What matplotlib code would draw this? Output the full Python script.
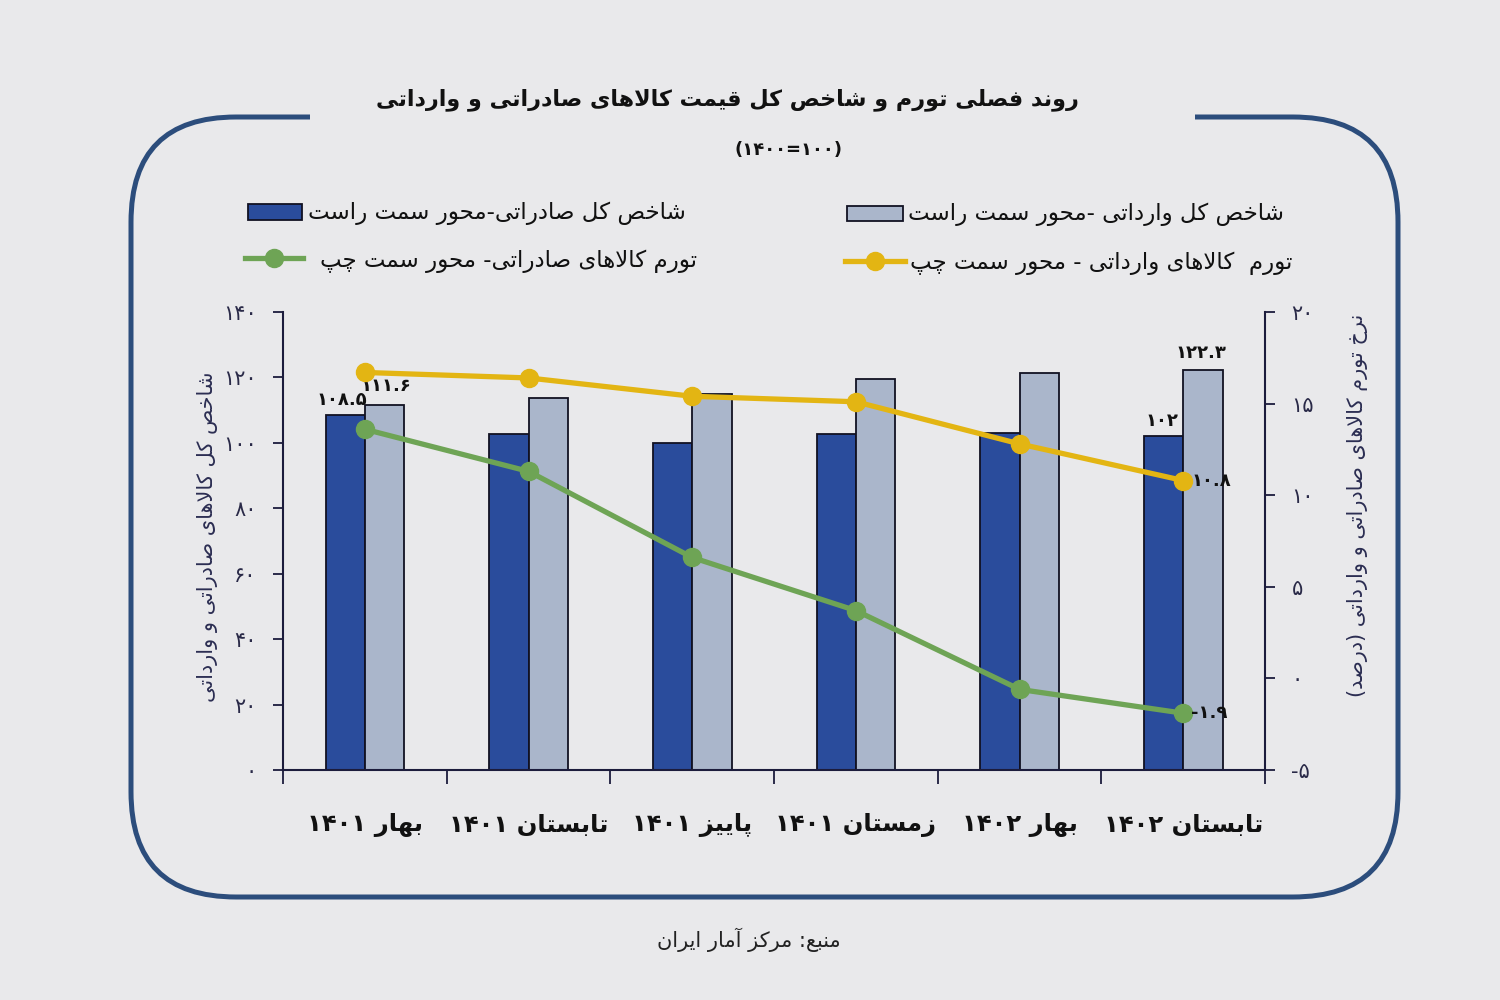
import re
import matplotlib
matplotlib.use('Agg')
import matplotlib.pyplot as plt
from matplotlib.patches import FancyBboxPatch, Rectangle
from matplotlib.lines import Line2D

# fasl-ha (mehvar-e ofoghi)
fasl = ['بهار ۱۴۰۱', 'تابستان ۱۴۰۱', 'پاییز ۱۴۰۱', 'زمستان ۱۴۰۱', 'بهار ۱۴۰۲', 'تابستان ۱۴۰۲']
# shakhes kol (mehvar-e chap, 0-140)
shakhes_sadarati = [108.5, 102.8, 100.1, 102.6, 102.9, 102.0]
shakhes_varedati = [111.6, 113.8, 115.0, 119.4, 121.5, 122.3]
# tavarom (mehvar-e rast, -5 ta 20)
tavarom_sadarati = [13.6, 11.3, 6.6, 3.7, -0.6, -1.9]
tavarom_varedati = [16.7, 16.4, 15.4, 15.1, 12.8, 10.8]

tick_chap = [0, 20, 40, 60, 80, 100, 120, 140]
tick_rast = [-5, 0, 5, 10, 15, 20]

# halat-haye harf: monfared, akhar, aval, vasat
SHAPES = {
    'ا': (0xFE8D, 0xFE8E), 'آ': (0xFE81, 0xFE82), 'د': (0xFEA9, 0xFEAA),
    'ر': (0xFEAD, 0xFEAE), 'ز': (0xFEAF, 0xFEB0), 'و': (0xFEED, 0xFEEE),
    'ب': (0xFE8F, 0xFE90, 0xFE91, 0xFE92), 'پ': (0xFB56, 0xFB57, 0xFB58, 0xFB59),
    'ت': (0xFE95, 0xFE96, 0xFE97, 0xFE98), 'چ': (0xFB7A, 0xFB7B, 0xFB7C, 0xFB7D),
    'ح': (0xFEA1, 0xFEA2, 0xFEA3, 0xFEA4), 'خ': (0xFEA5, 0xFEA6, 0xFEA7, 0xFEA8),
    'س': (0xFEB1, 0xFEB2, 0xFEB3, 0xFEB4), 'ش': (0xFEB5, 0xFEB6, 0xFEB7, 0xFEB8),
    'ص': (0xFEB9, 0xFEBA, 0xFEBB, 0xFEBC), 'ع': (0xFEC9, 0xFECA, 0xFECB, 0xFECC),
    'ف': (0xFED1, 0xFED2, 0xFED3, 0xFED4), 'ق': (0xFED5, 0xFED6, 0xFED7, 0xFED8),
    'ک': (0xFB8E, 0xFB8F, 0xFB90, 0xFB91), 'ل': (0xFEDD, 0xFEDE, 0xFEDF, 0xFEE0),
    'م': (0xFEE1, 0xFEE2, 0xFEE3, 0xFEE4), 'ن': (0xFEE5, 0xFEE6, 0xFEE7, 0xFEE8),
    'ه': (0xFEE9, 0xFEEA, 0xFEEB, 0xFEEC), 'ی': (0xFBFC, 0xFBFD, 0xFBFE, 0xFBFF),
}


def fa(matn):
    # shekl dadan be horuf va chidan az rast be chap
    harf = list(matn)
    out = []
    i = 0
    while i < len(harf):
        c = harf[i]
        if c not in SHAPES:
            out.append(c)
            i += 1
            continue
        prev = harf[i - 1] if i > 0 else ''
        vasl_qabl = prev in SHAPES and len(SHAPES[prev]) == 4
        if c == 'ل' and i + 1 < len(harf) and harf[i + 1] == 'ا':
            out.append(chr(0xFEFC if vasl_qabl else 0xFEFB))
            i += 2
            continue
        nxt = harf[i + 1] if i + 1 < len(harf) else ''
        vasl_bad = len(SHAPES[c]) == 4 and nxt in SHAPES
        f = SHAPES[c]
        if vasl_qabl and vasl_bad:
            g = f[3]
        elif vasl_bad:
            g = f[2]
        elif vasl_qabl:
            g = f[1]
        else:
            g = f[0]
        out.append(chr(g))
        i += 1
    s = ''.join(out)[::-1]
    s = re.sub(r'[0-9۰-۹.]+', lambda m: m.group(0)[::-1], s)
    return s.translate(str.maketrans('()', ')('))


def adad(x):
    return str(x).translate(str.maketrans('0123456789', '۰۱۲۳۴۵۶۷۸۹'))


plt.rcParams['font.family'] = ['DejaVu Sans']

zamine = '#e9e9eb'
abi_tire = '#2a4c9c'
abi_roshan = '#aab6cb'
zard = '#e3b513'
sabz = '#6ea455'
khat = '#1c1c3c'

fig = plt.figure(figsize=(15, 10), dpi=100, facecolor=zamine)
ax = fig.add_axes([0.1887, 0.23, 0.6547, 0.458])
ax.set_facecolor(zamine)

x = list(range(len(fasl)))
w = 0.24
ax.bar([i - w / 2 for i in x], shakhes_sadarati, w, color=abi_tire, edgecolor='#111122', linewidth=1.3, zorder=2)
ax.bar([i + w / 2 for i in x], shakhes_varedati, w, color=abi_roshan, edgecolor='#111122', linewidth=1.3, zorder=2)
ax.set_xlim(-0.5, 5.5)
ax.set_ylim(0, 140)
ax.set_yticks(tick_chap)
ax.set_yticklabels([adad(t) for t in tick_chap])
ax.set_xticks(x)
ax.set_xticklabels([fa(f) for f in fasl], fontsize=17.5, fontweight='bold', color='#111')
ax.set_xticks([i - 0.5 for i in range(7)], minor=True)
ax.tick_params(axis='x', which='major', length=0, pad=31)
ax.tick_params(axis='x', which='minor', direction='out', length=10, width=1.3, color=khat)
ax.tick_params(axis='y', direction='out', length=7, width=1.3, color=khat, labelsize=15, labelcolor='#2a2a48', pad=12)
for s in ['top', 'right']:
    ax.spines[s].set_visible(False)
for s in ['left', 'bottom']:
    ax.spines[s].set_color(khat)
    ax.spines[s].set_linewidth(1.5)

ax.text(-0.14, shakhes_sadarati[0] + 2, adad('108.5'), ha='center', va='bottom', fontsize=13, fontweight='bold', color='#111')
ax.text(0.13, shakhes_varedati[0] + 3, adad('111.6'), ha='center', va='bottom', fontsize=13, fontweight='bold', color='#111')
ax.text(5.11, shakhes_varedati[5] + 2.5, adad('122.3'), ha='center', va='bottom', fontsize=13, fontweight='bold', color='#111')
ax.text(4.87, shakhes_sadarati[5] + 2, adad('102'), ha='center', va='bottom', fontsize=13, fontweight='bold', color='#111')

ax2 = ax.twinx()
ax2.plot(x, tavarom_varedati, color=zard, linewidth=3.8, marker='o', markersize=13, zorder=3)
ax2.plot(x, tavarom_sadarati, color=sabz, linewidth=3.8, marker='o', markersize=13, zorder=3)
ax2.set_ylim(-5, 20)
ax2.set_yticks(tick_rast)
ax2.set_yticklabels([adad(t) for t in tick_rast])
ax2.tick_params(axis='y', direction='out', length=7, width=1.3, color=khat, labelsize=15, labelcolor='#2a2a48', pad=12)
for s in ['top', 'left', 'bottom']:
    ax2.spines[s].set_visible(False)
ax2.spines['right'].set_color(khat)
ax2.spines['right'].set_linewidth(1.5)
ax2.text(5.05, tavarom_varedati[5], adad('10.8'), ha='left', va='center', fontsize=13, fontweight='bold', color='#111')
ax2.text(5.05, tavarom_sadarati[5], '-' + adad('1.9'), ha='left', va='center', fontsize=13, fontweight='bold', color='#111')

# ghab-e gerd
ghab = FancyBboxPatch((1.31, 1.03), 12.67, 7.8, boxstyle='round,pad=0,rounding_size=1.05',
                      transform=fig.dpi_scale_trans, facecolor='none', edgecolor='#2c4d7c', linewidth=3.6, zorder=1)
fig.patches.append(ghab)
fig.patches.append(Rectangle((3.1, 8.65), 8.85, 0.35, transform=fig.dpi_scale_trans,
                             facecolor=zamine, edgecolor='none', zorder=1.5))

# onvan
fig.text(0.485, 0.90, fa('روند فصلی تورم و شاخص کل قیمت کالاهای صادراتی و وارداتی'),
         ha='center', va='center', fontsize=16, fontweight='bold', color='#111')
fig.text(0.526, 0.85, '(۱۴۰۰=۱۰۰)', ha='center', va='center', fontsize=13, fontweight='bold', color='#111')

# rahnama
fig.patches.append(Rectangle((0.1653, 0.780), 0.036, 0.016, transform=fig.transFigure,
                             facecolor=abi_tire, edgecolor='#111122', linewidth=1.3))
fig.text(0.2053, 0.787, fa('شاخص کل صادراتی-محور سمت راست'), ha='left', va='center', fontsize=16.5, color='#111')
fig.patches.append(Rectangle((0.5647, 0.779), 0.0373, 0.015, transform=fig.transFigure,
                             facecolor=abi_roshan, edgecolor='#111122', linewidth=1.3))
fig.text(0.6053, 0.786, fa('شاخص کل وارداتی -محور سمت راست'), ha='left', va='center', fontsize=16.5, color='#111')
fig.lines.append(Line2D([0.1633, 0.202], [0.742, 0.742], transform=fig.transFigure, color=sabz, linewidth=3.8))
fig.lines.append(Line2D([0.1827], [0.742], transform=fig.transFigure, color=sabz, marker='o', markersize=13))
fig.text(0.2133, 0.739, fa('تورم کالاهای صادراتی- محور سمت چپ'), ha='left', va='center', fontsize=16.5, color='#111')
fig.lines.append(Line2D([0.5633, 0.6033], [0.739, 0.739], transform=fig.transFigure, color=zard, linewidth=3.8))
fig.lines.append(Line2D([0.5833], [0.739], transform=fig.transFigure, color=zard, marker='o', markersize=13))
fig.text(0.6067, 0.737, fa('تورم  کالاهای وارداتی - محور سمت چپ'), ha='left', va='center', fontsize=16.5, color='#111')

# onvan-e mehvar-ha
fig.text(0.138, 0.463, fa('شاخص کل کالاهای صادراتی و وارداتی'), rotation=90, ha='center', va='center',
         fontsize=15, color='#2b2d52')
fig.text(0.905, 0.495, fa('نرخ تورم کالاهای صادراتی و وارداتی (درصد)'), rotation=90, ha='center', va='center',
         fontsize=15, color='#2b2d52')

fig.text(0.499, 0.06, fa('منبع: مرکز آمار ایران'), ha='center', va='center', fontsize=15, color='#222')

fig.savefig('out.png', dpi=100, facecolor=zamine)
